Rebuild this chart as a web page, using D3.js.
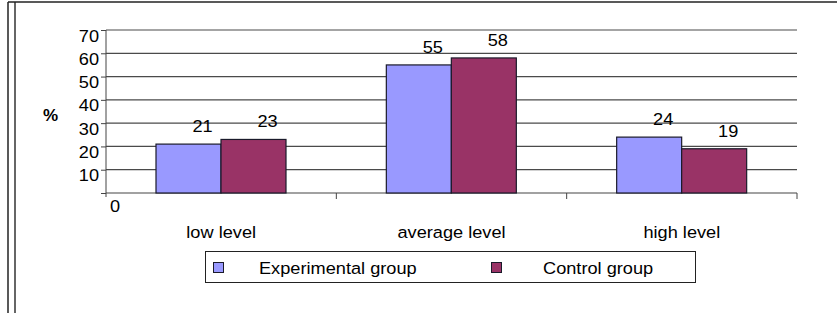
<!DOCTYPE html>
<html>
<head>
<meta charset="utf-8">
<script src="https://cdnjs.cloudflare.com/ajax/libs/d3/7.8.5/d3.min.js"></script>
<style>
  body { margin: 0; background: #fff; }
  svg text { font-family: "Liberation Sans", Arial, sans-serif; fill: #000; }
</style>
</head>
<body>
<div id="chart"></div>
<script>
// chart data
var categories = ["low level", "average level", "high level"];
var groups = ["Experimental group", "Control group"];
var experimental = [21, 55, 24];
var control = [23, 58, 19];
var yTicks = [0, 10, 20, 30, 40, 50, 60, 70];
var colors = ["#9999ff", "#993366"];

var width = 837, height = 313;
var stretch = "scale(1.07,1)"; // the original text is a bit wide
var fontSize = 17;

var svg = d3.select("#chart").append("svg")
    .attr("width", width)
    .attr("height", height);

// frame: double line on the left, single line along the top
svg.append("line").attr("x1", 8).attr("x2", 8).attr("y1", 2).attr("y2", height)
    .attr("stroke", "#222").attr("stroke-width", 1.5);
svg.append("line").attr("x1", 15).attr("x2", 15).attr("y1", 2).attr("y2", height)
    .attr("stroke", "#333").attr("stroke-width", 1.5);
svg.append("line").attr("x1", 8).attr("x2", width).attr("y1", 2).attr("y2", 2)
    .attr("stroke", "#222").attr("stroke-width", 1.5);

// scales
var x = d3.scaleBand().domain(categories).range([106, 797]);
var xSub = d3.scaleBand().domain(groups).range([50, 180]);
var y = d3.scaleLinear().domain([0, 70]).range([193, 30]);

// gridlines
svg.append("g").selectAll("line")
    .data(yTicks.slice(1))
    .enter().append("line")
    .attr("x1", 106).attr("x2", 797)
    .attr("y1", function (d) { return y(d); })
    .attr("y2", function (d) { return y(d); })
    .attr("stroke", "#4a4a4a")
    .attr("stroke-width", 1.2);

// y axis
var yAxis = svg.append("g")
    .attr("transform", "translate(106,0)")
    .call(d3.axisLeft(y).tickValues(yTicks).tickSize(5).tickPadding(3)
        .tickFormat(function (d) { return d === 0 ? "" : d; }));
yAxis.select(".domain").attr("stroke", "#444").attr("d", "M0,30V197");
yAxis.selectAll(".tick line").attr("stroke", "#444");
yAxis.selectAll(".tick text")
    .attr("font-size", fontSize)
    .attr("dy", null)
    .attr("x", null)
    .attr("transform", "translate(-7,11) " + stretch);

// the zero label sits below the axis, just right of it
svg.append("text")
    .attr("transform", "translate(110,212) " + stretch)
    .attr("font-size", fontSize)
    .text("0");

// "%" title
svg.append("text")
    .attr("transform", "translate(43,121)")
    .attr("font-size", 17)
    .attr("font-weight", "bold")
    .text("%");

// x axis line and category separators
svg.append("line")
    .attr("x1", 106).attr("x2", 797)
    .attr("y1", y(0)).attr("y2", y(0))
    .attr("stroke", "#444").attr("stroke-width", 1.2);
svg.append("g").selectAll("line")
    .data(categories.slice(1).concat(["end"]))
    .enter().append("line")
    .attr("x1", function (d, i) { return x.range()[0] + x.step() * (i + 1); })
    .attr("x2", function (d, i) { return x.range()[0] + x.step() * (i + 1); })
    .attr("y1", y(0)).attr("y2", y(0) + 6)
    .attr("stroke", "#444");

// bars
var rows = categories.map(function (c, i) {
    return { category: c, values: [experimental[i], control[i]] };
});

var cat = svg.append("g").selectAll("g")
    .data(rows)
    .enter().append("g")
    .attr("transform", function (d) { return "translate(" + x(d.category) + ",0)"; });

cat.selectAll("rect")
    .data(function (d) { return d.values.map(function (v, j) { return { group: groups[j], value: v, j: j }; }); })
    .enter().append("rect")
    .attr("x", function (d) { return xSub(d.group); })
    .attr("width", xSub.bandwidth())
    .attr("y", function (d) { return y(d.value); })
    .attr("height", function (d) { return y(0) - y(d.value); })
    .attr("fill", function (d) { return colors[d.j]; })
    .attr("stroke", "#1a1a2a")
    .attr("stroke-width", 1.2);

// value labels
cat.selectAll("text")
    .data(function (d) { return d.values.map(function (v, j) { return { group: groups[j], value: v }; }); })
    .enter().append("text")
    .attr("transform", function (d) {
        return "translate(" + (xSub(d.group) + xSub.bandwidth() / 2 + 14) + "," + (y(d.value) - 12) + ") " + stretch;
    })
    .attr("text-anchor", "middle")
    .attr("font-size", fontSize)
    .text(function (d) { return d.value; });

// category labels
svg.append("g").selectAll("text")
    .data(categories)
    .enter().append("text")
    .attr("transform", function (d) {
        return "translate(" + (x(d) + x.bandwidth() / 2) + ",238) " + stretch;
    })
    .attr("text-anchor", "middle")
    .attr("font-size", fontSize)
    .text(function (d) { return d; });

// legend
var legend = svg.append("g");
legend.append("rect")
    .attr("x", 205.5).attr("y", 251.5)
    .attr("width", 490).attr("height", 31)
    .attr("fill", "#fff").attr("stroke", "#222").attr("stroke-width", 1);

var legendX = [213, 491];
var legendTextX = [259, 543];
var item = legend.selectAll(".item")
    .data(groups)
    .enter().append("g")
    .attr("class", "item");
item.append("rect")
    .attr("x", function (d, i) { return legendX[i] + 0.5; })
    .attr("y", 262.5)
    .attr("width", 10).attr("height", 10)
    .attr("fill", function (d, i) { return colors[i]; })
    .attr("stroke", "#1a1a2a");
item.append("text")
    .attr("transform", function (d, i) { return "translate(" + legendTextX[i] + ",274) " + stretch; })
    .attr("font-size", fontSize)
    .text(function (d) { return d; });
</script>
</body>
</html>
